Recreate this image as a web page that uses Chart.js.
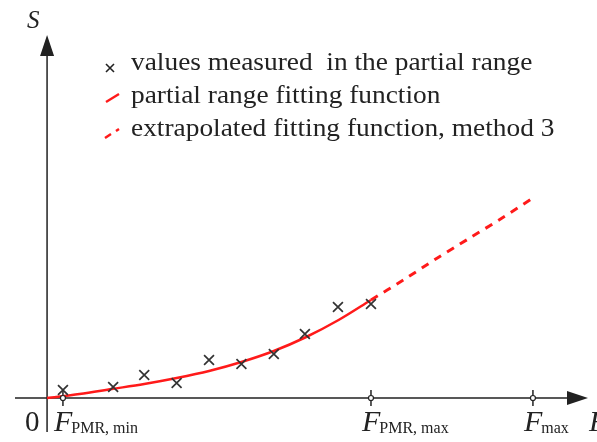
<!DOCTYPE html>
<html lang="en">

<head>
    <meta charset="UTF-8">
    <title>Fitting function</title>
    <style>
        html, body { margin: 0; padding: 0; background: #fff; overflow: hidden; }
        #chart-container { width: 597px; height: 442px; }
    </style>
</head>

<body>
    <div id="chart-container">
        <canvas id="myChart" width="597" height="442"></canvas>
    </div>

    <script src="https://cdn.jsdelivr.net/npm/chart.js"></script>

    <script>
        // measured points (F, S)
        const measuredX = [0.49, 2.04, 3.0, 4.0, 5.0, 6.0, 7.0, 7.96, 8.98, 10.0]
        const measuredY = [0.8, 1.1, 2.3, 1.5, 3.8, 3.4, 4.4, 6.4, 9.1, 9.4]
        // partial range fitting function
        const fitX = [0, 1, 2, 3, 4, 5, 6, 7, 8, 9, 10]
        const fitY = [0, 0.4, 0.9, 1.4, 2.0, 2.7, 3.6, 4.7, 6.1, 7.8, 9.8]
        // extrapolated fitting function (method 3)
        const extX = [10, 11, 12, 13, 14, 15]
        const extY = [9.8, 11.8, 13.9, 15.9, 17.9, 20.0]
        // x axis ticks
        const tickX = [0.49, 10, 15]
        const tickSub = ['PMR, min', 'PMR, max', 'max']
        const legendText = [
            'values measured  in the partial range',
            'partial range fitting function',
            'extrapolated fitting function, method 3'
        ]

        const RED = '#ff1a1a'
        const INK = '#222'
        const SERIF = '"Liberation Serif", "Times New Roman", serif'

        const pts = (xs, ys) => xs.map((x, i) => ({ x: x, y: ys[i] }))

        function arrow(c, x, y, dir) {
            c.beginPath()
            if (dir == 'up') {
                c.moveTo(x, y); c.lineTo(x - 7, y + 21); c.lineTo(x + 7, y + 21)
            } else {
                c.moveTo(x, y); c.lineTo(x - 21, y - 7); c.lineTo(x - 21, y + 7)
            }
            c.closePath()
            c.fill()
        }

        const axesPlugin = {
            id: 'axesPlugin',
            beforeDatasetsDraw(chart) {
                const c = chart.ctx, a = chart.chartArea
                const xs = chart.scales.x, ys = chart.scales.y
                const x0 = xs.getPixelForValue(0), y0 = ys.getPixelForValue(0)
                c.save()
                c.strokeStyle = INK; c.fillStyle = INK; c.lineWidth = 1.5
                c.beginPath()
                c.moveTo(x0, a.bottom); c.lineTo(x0, a.top + 15)
                c.moveTo(a.left, y0); c.lineTo(a.right - 15, y0)
                c.stroke()
                arrow(c, x0, a.top, 'up')
                arrow(c, a.right, y0, 'right')

                // tick marks with little circles
                tickX.forEach(v => {
                    const px = xs.getPixelForValue(v)
                    c.beginPath(); c.moveTo(px, y0 - 8); c.lineTo(px, y0 + 8); c.stroke()
                })

                // labels
                c.textBaseline = 'alphabetic'
                c.font = '29px ' + SERIF
                c.fillText('0', 25, 431)
                c.font = 'italic 25px ' + SERIF
                c.fillText('S', 27, 28)
                tickX.forEach((v, i) => {
                    const px = xs.getPixelForValue(v) - 9
                    c.font = 'italic 30px ' + SERIF
                    c.fillText('F', px, 431)
                    const w = c.measureText('F').width
                    c.font = '16px ' + SERIF
                    c.fillText(tickSub[i], px + w - 1, 433)
                })
                c.font = 'italic 30px ' + SERIF
                c.fillText('F', 589, 431)

                // legend (text is a bit wide in the original)
                c.save()
                c.font = '25px ' + SERIF
                c.translate(131, 0)
                c.scale(1.095, 1)
                legendText.forEach((t, i) => c.fillText(t, 0, 70 + i * 33))
                c.restore()
                c.lineWidth = 1.6
                c.beginPath()
                c.moveTo(106, 64); c.lineTo(114, 72); c.moveTo(114, 64); c.lineTo(106, 72)
                c.stroke()
                c.strokeStyle = RED; c.lineWidth = 2.5
                c.beginPath(); c.moveTo(106, 102); c.lineTo(119, 94); c.stroke()
                c.beginPath(); c.moveTo(105, 138); c.lineTo(111, 134)
                c.moveTo(116, 131); c.lineTo(119, 129); c.stroke()
                c.restore()
            },
            afterDatasetsDraw(chart) {
                const c = chart.ctx
                const xs = chart.scales.x, ys = chart.scales.y
                const y0 = ys.getPixelForValue(0)
                c.save()
                c.strokeStyle = INK; c.fillStyle = '#fff'; c.lineWidth = 1.2
                tickX.forEach(v => {
                    const px = xs.getPixelForValue(v)
                    c.beginPath(); c.arc(px, y0, 2.5, 0, Math.PI * 2); c.fill(); c.stroke()
                })
                c.restore()
            }
        }

        const ctx = document.getElementById('myChart')
        const myChart = new Chart(ctx, {
            type: 'scatter',
            data: {
                datasets: [{
                    label: legendText[2],
                    data: pts(extX, extY),
                    showLine: true,
                    borderColor: RED,
                    borderWidth: 3,
                    borderDash: [8, 7],
                    pointRadius: 0,
                    tension: 0.3,
                    order: 3
                }, {
                    label: legendText[1],
                    data: pts(fitX, fitY),
                    showLine: true,
                    borderColor: RED,
                    borderWidth: 2.5,
                    pointRadius: 0,
                    cubicInterpolationMode: 'monotone',
                    order: 2
                }, {
                    label: legendText[0],
                    data: pts(measuredX, measuredY),
                    pointStyle: 'crossRot',
                    pointRadius: 7,
                    pointBorderWidth: 1.7,
                    borderColor: '#333',
                    backgroundColor: '#333',
                    order: 1
                }]
            },
            plugins: [axesPlugin],
            options: {
                responsive: false,
                animation: false,
                events: [],
                layout: { padding: { left: 15, right: 9, top: 35, bottom: 10 } },
                plugins: { legend: { display: false }, tooltip: { enabled: false } },
                scales: {
                    x: { type: 'linear', display: false, min: -0.99, max: 16.7 },
                    y: { type: 'linear', display: false, min: -3.4, max: 36.3 }
                }
            }
        })
    </script>
</body>

</html>
